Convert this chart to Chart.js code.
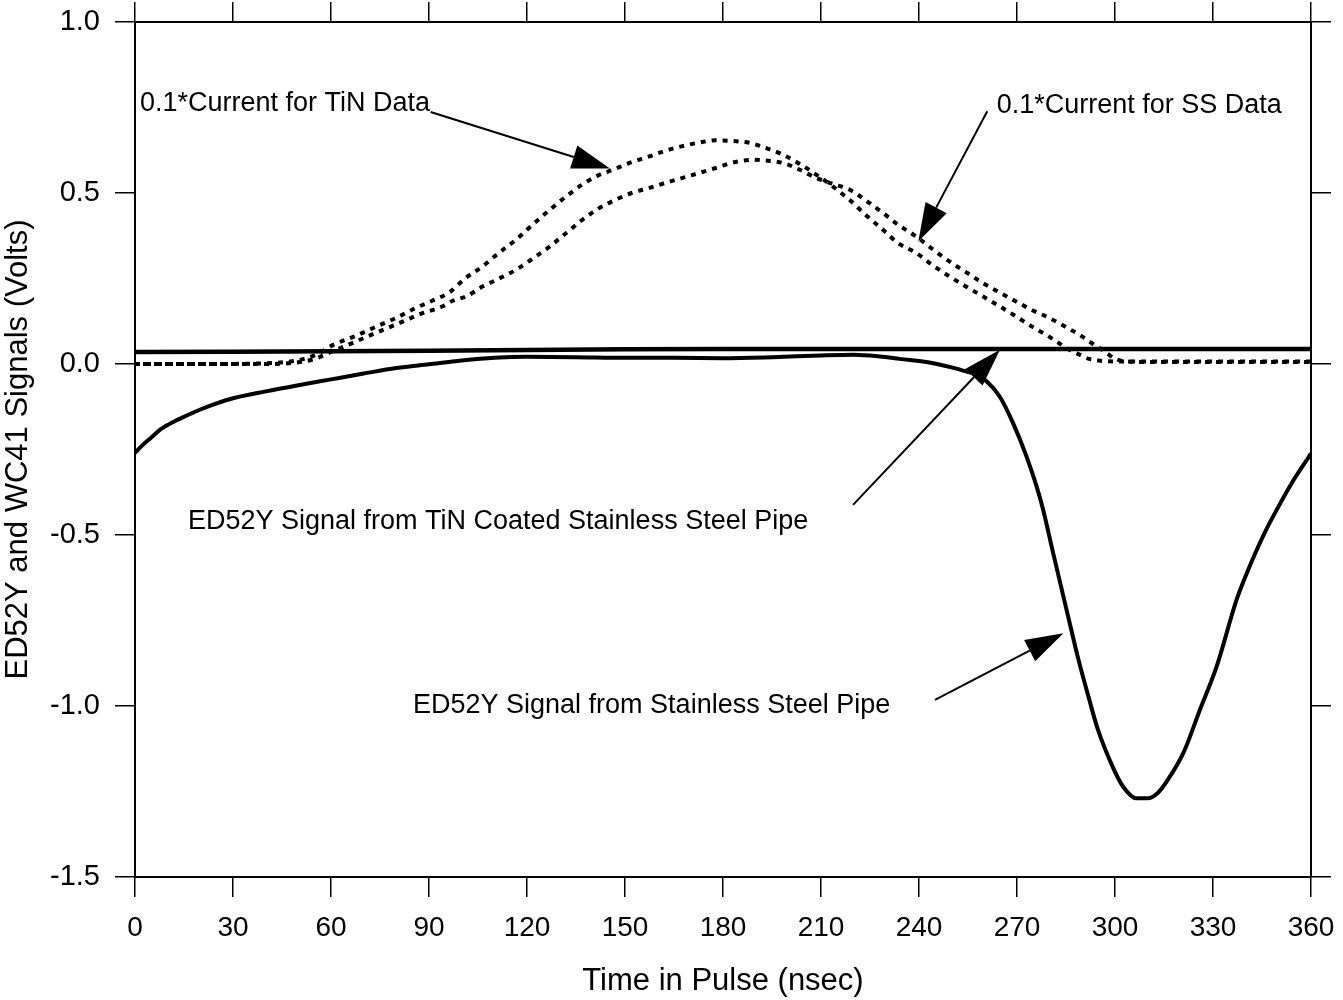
<!DOCTYPE html>
<html>
<head>
<meta charset="utf-8">
<script src="https://cdn.jsdelivr.net/npm/chart.js@4.4.1/dist/chart.umd.min.js"></script>
<style>
  html, body { margin: 0; padding: 0; background: #fff; }
  #wrap { width: 1343px; height: 1000px; }
</style>
</head>
<body>
<div id="wrap"><canvas id="chart" width="1343" height="1000"></canvas></div>
<script>
// ED52Y signal, TiN coated stainless steel pipe (nearly flat trace)
const tinSignalTime = [0, 30, 60, 90, 120, 150, 180, 210, 240, 270, 300, 330, 360];
const tinSignal     = [0.035, 0.036, 0.037, 0.039, 0.041, 0.043, 0.044, 0.044, 0.044, 0.044, 0.044, 0.044, 0.044];

// ED52Y signal, bare stainless steel pipe
const ssSignalTime = [0, 2, 5, 8, 12, 16, 20, 25, 30, 40, 50, 60, 70, 80, 90, 100, 110, 120, 135, 150,
  165, 180, 195, 210, 220, 228, 234, 244, 250, 254.5, 257.6, 260.6, 264.7, 268.8, 272.9, 276, 278, 281,
  284.7, 286.2, 288.7, 291.8, 294.8, 299.4, 302.5, 306.6, 310, 313, 315.8, 320.9, 326, 331.1, 337.2,
  340, 343, 346, 349.4, 354, 360];
const ssSignal = [-0.26, -0.24, -0.215, -0.19, -0.168, -0.15, -0.133, -0.115, -0.10, -0.08, -0.062,
  -0.045, -0.028, -0.012, -0.001, 0.010, 0.018, 0.021, 0.020, 0.018, 0.018, 0.017, 0.020, 0.025, 0.027,
  0.022, 0.015, 0.003, -0.010, -0.022, -0.031, -0.05, -0.095, -0.173, -0.27, -0.358, -0.426, -0.55,
  -0.70, -0.76, -0.86, -0.97, -1.07, -1.18, -1.236, -1.27, -1.27, -1.255, -1.221, -1.138, -1.011,
  -0.885, -0.69, -0.62, -0.552, -0.49, -0.428, -0.35, -0.262];

// 0.1 * drive current, TiN run
const tinCurrentTime = [0, 20, 40, 48, 52, 56, 60.7, 67, 74, 80, 86.2, 91, 96.3, 101, 106.5, 111,
  116.7, 122, 127, 132, 137, 141.5, 146.3, 152, 157.5, 162.5, 167.6, 172.5, 177.8, 183, 188, 193,
  198.3, 203.5, 208.5, 213.5, 218.7, 223.8, 228.9, 233.5, 239.1, 244, 249.3, 254.5, 259.5, 264.5,
  269.7, 274.5, 279.8, 283, 286, 289, 292, 295, 298, 305, 320, 340, 360];
const tinCurrent = [0.0, 0.0, 0.002, 0.008, 0.016, 0.03, 0.056, 0.08, 0.11, 0.135, 0.165, 0.185, 0.21,
  0.25, 0.286, 0.322, 0.364, 0.41, 0.451, 0.49, 0.525, 0.55, 0.568, 0.59, 0.607, 0.624, 0.637, 0.647,
  0.654, 0.652, 0.647, 0.632, 0.612, 0.585, 0.554, 0.52, 0.48, 0.435, 0.393, 0.354, 0.325, 0.29,
  0.256, 0.226, 0.198, 0.17, 0.139, 0.11, 0.08, 0.06, 0.042, 0.028, 0.015, 0.01, 0.008, 0.007, 0.007,
  0.007, 0.007];

// 0.1 * drive current, stainless steel run
const ssCurrentTime = [0, 20, 40, 50, 55, 60, 66.7, 74, 81, 87, 94, 97.3, 101.5, 106.5, 111.5, 116.7,
  122, 127, 132, 137, 142, 147.3, 152, 157.5, 162.5, 167.6, 172.5, 177.8, 181.5, 185, 189, 193, 198.3,
  203.5, 208.5, 213.5, 218.7, 223.8, 228.9, 233.5, 239.1, 244, 249.3, 254.5, 259.5, 264.5, 269.7,
  274.5, 279.8, 285, 290, 293, 296, 298, 300.2, 303, 310, 330, 360];
const ssCurrent = [0.0, 0.0, 0.0, 0.005, 0.015, 0.035, 0.062, 0.092, 0.12, 0.145, 0.168, 0.185, 0.198,
  0.227, 0.25, 0.276, 0.31, 0.344, 0.383, 0.422, 0.455, 0.481, 0.50, 0.515, 0.53, 0.544, 0.558, 0.573,
  0.585, 0.593, 0.597, 0.595, 0.588, 0.568, 0.544, 0.527, 0.51, 0.478, 0.442, 0.408, 0.373, 0.337,
  0.30, 0.268, 0.237, 0.21, 0.183, 0.158, 0.135, 0.108, 0.08, 0.06, 0.042, 0.028, 0.015, 0.008, 0.006,
  0.006, 0.006];

// axis tick values
const timeTicks = [0, 30, 60, 90, 120, 150, 180, 210, 240, 270, 300, 330, 360];
const voltTicks = [-1.5, -1.0, -0.5, 0.0, 0.5, 1.0];

const FONT = '"Liberation Sans", Arial, Helvetica, sans-serif';

const pts = (xs, ys) => xs.map((v, i) => ({ x: v, y: ys[i] }));

// text labels with pointer arrows, in data coordinates
const callouts = [
  { text: '0.1*Current for TiN Data', at: [1.5, 0.762], from: [90.5, 0.737], to: [145.4, 0.572] },
  { text: '0.1*Current for SS Data', at: [263.8, 0.755], from: [260.9, 0.739], to: [239.8, 0.359] },
  { text: 'ED52Y Signal from TiN Coated Stainless Steel Pipe', at: [16.2, -0.461], from: [219.8, -0.412], to: [264.8, 0.042] },
  { text: 'ED52Y Signal from Stainless Steel Pipe', at: [85.1, -1.0], from: [244.9, -0.982], to: [284.2, -0.787] }
];

const calloutPlugin = {
  id: 'callouts',
  afterDatasetsDraw(chart) {
    const { ctx, scales: { x, y } } = chart;
    ctx.save();
    ctx.fillStyle = '#000';
    ctx.strokeStyle = '#000';
    ctx.font = '27px ' + FONT;
    ctx.textBaseline = 'middle';
    ctx.textAlign = 'left';
    for (const c of callouts) {
      ctx.fillText(c.text, x.getPixelForValue(c.at[0]), y.getPixelForValue(c.at[1]));
      const x1 = x.getPixelForValue(c.from[0]), y1 = y.getPixelForValue(c.from[1]);
      const x2 = x.getPixelForValue(c.to[0]), y2 = y.getPixelForValue(c.to[1]);
      const a = Math.atan2(y2 - y1, x2 - x1);
      const headLen = 38, headHalf = 12;
      const bx = x2 - headLen * Math.cos(a), by = y2 - headLen * Math.sin(a);
      ctx.lineWidth = 2;
      ctx.beginPath();
      ctx.moveTo(x1, y1);
      ctx.lineTo(bx, by);
      ctx.stroke();
      ctx.beginPath();
      ctx.moveTo(x2, y2);
      ctx.lineTo(bx + headHalf * Math.sin(a), by - headHalf * Math.cos(a));
      ctx.lineTo(bx - headHalf * Math.sin(a), by + headHalf * Math.cos(a));
      ctx.closePath();
      ctx.fill();
    }
    ctx.restore();
  }
};

const axisGrid = { drawOnChartArea: false, drawTicks: true, tickLength: 20, color: '#000', lineWidth: 1.5 };
const axisBorder = { display: true, color: '#000', width: 2 };
const setTicks = (vals) => (scale) => { scale.ticks = vals.map(v => ({ value: v })); };
// fixed box sizes so the plot frame sits where it should; label overhang is not reserved
const fixBox = (w, h) => (s) => {
  if (w !== null) s.width = w;
  if (h !== null) s.height = h;
  s.paddingTop = 0; s.paddingBottom = 0; s.paddingLeft = 0; s.paddingRight = 0;
};

new Chart(document.getElementById('chart'), {
  type: 'line',
  data: {
    datasets: [
      { label: 'ED52Y Signal from TiN Coated Stainless Steel Pipe', data: pts(tinSignalTime, tinSignal),
        borderColor: '#000', borderWidth: 4.5, pointRadius: 0, tension: 0 },
      { label: 'ED52Y Signal from Stainless Steel Pipe', data: pts(ssSignalTime, ssSignal),
        borderColor: '#000', borderWidth: 4, pointRadius: 0, cubicInterpolationMode: 'monotone' },
      { label: '0.1*Current for TiN Data', data: pts(tinCurrentTime, tinCurrent),
        borderColor: '#000', borderWidth: 4, borderDash: [5, 6], pointRadius: 0, cubicInterpolationMode: 'monotone' },
      { label: '0.1*Current for SS Data', data: pts(ssCurrentTime, ssCurrent),
        borderColor: '#000', borderWidth: 4, borderDash: [5, 6], borderDashOffset: 3, pointRadius: 0, cubicInterpolationMode: 'monotone' }
    ]
  },
  options: {
    responsive: false,
    animation: false,
    devicePixelRatio: 1,
    layout: { padding: 0 },
    plugins: { legend: { display: false }, tooltip: { enabled: false } },
    scales: {
      x: {
        type: 'linear', position: 'bottom', min: 0, max: 360,
        afterBuildTicks: setTicks(timeTicks),
        afterFit: fixBox(null, 123),
        grid: axisGrid, border: axisBorder,
        ticks: { color: '#000', padding: 14, maxRotation: 0, autoSkip: false,
                 font: { family: FONT, size: 28 }, callback: (v) => String(v) },
        title: { display: true, text: 'Time in Pulse (nsec)', color: '#000',
                 font: { family: FONT, size: 31, lineHeight: 1.2 }, padding: { top: 0, bottom: 0 } }
      },
      xTop: {
        axis: 'x', type: 'linear', position: 'top', min: 0, max: 360,
        afterBuildTicks: setTicks(timeTicks),
        afterFit: fixBox(null, 22),
        grid: axisGrid, border: axisBorder,
        ticks: { display: false }
      },
      y: {
        type: 'linear', position: 'left', min: -1.5, max: 1.0,
        afterBuildTicks: setTicks(voltTicks),
        afterFit: fixBox(135, null),
        grid: axisGrid, border: axisBorder,
        ticks: { color: '#000', padding: 15, autoSkip: false,
                 font: { family: FONT, size: 29 }, callback: (v) => Number(v).toFixed(1) },
        title: { display: true, text: 'ED52Y and WC41 Signals (Volts)', color: '#000',
                 font: { family: FONT, size: 31, lineHeight: 1.2 }, padding: { top: 0, bottom: 0 } }
      },
      yRight: {
        axis: 'y', type: 'linear', position: 'right', min: -1.5, max: 1.0,
        afterBuildTicks: setTicks(voltTicks),
        afterFit: fixBox(32, null),
        grid: axisGrid, border: axisBorder,
        ticks: { display: false }
      }
    }
  },
  plugins: [calloutPlugin]
});
</script>
</body>
</html>
